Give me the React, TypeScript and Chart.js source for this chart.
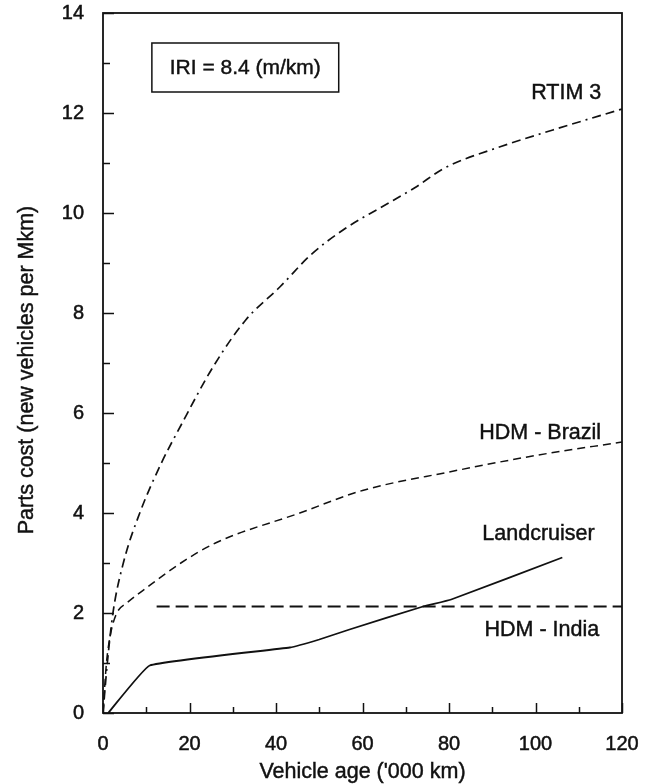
import React, { useEffect, useRef } from "react";
import { Chart, registerables } from "chart.js";

Chart.register(...registerables);

// ---- data ----
const rtimX = [0, 1, 2.3, 4.7, 8.5, 13.5, 18, 25.5, 33, 41, 48, 56, 64, 72, 79, 92, 104, 120];
const rtimY = [0, 1.0, 2.0, 3.0, 4.0, 5.0, 5.75, 6.93, 7.86, 8.53, 9.16, 9.69, 10.1, 10.5, 10.9, 11.33, 11.66, 12.08];

const brazilX = [0, 0.8, 1.8, 3.2, 5.5, 10, 18, 26, 45.5, 60, 80, 100, 120];
const brazilY = [0, 1.0, 1.6, 2.0, 2.2, 2.5, 3.0, 3.4, 4.0, 4.45, 4.82, 5.15, 5.42];

const indiaX = [12.4, 120];
const indiaY = [2.13, 2.13];

const landX = [1.2, 10.8, 43.2, 50, 57, 74, 80.5, 106.2];
const landY = [0, 0.95, 1.31, 1.47, 1.67, 2.13, 2.27, 3.11];

const xTicks = [0, 20, 40, 60, 80, 100, 120];
const yTicks = [0, 2, 4, 6, 8, 10, 12, 14];

const xTitle = "Vehicle age ('000 km)";
const yTitle = "Parts cost (new vehicles per Mkm)";
const boxText = "IRI = 8.4 (m/km)";

const seriesLabels = ["RTIM 3", "HDM - Brazil", "Landcruiser", "HDM - India"];
const seriesLabelX = [99.0, 87.0, 87.7, 88.2];
const seriesLabelY = [12.4, 5.6, 3.58, 1.66];

const FONT = "'Liberation Sans', Arial, Helvetica, sans-serif";
const INK = "#111";

const zip = (xs: number[], ys: number[]) => xs.map((x, i) => ({ x, y: ys[i] }));

const noPad = (s: any) => {
  s.paddingTop = 0;
  s.paddingBottom = 0;
  s.paddingLeft = 0;
  s.paddingRight = 0;
};

const drawText = (ctx: any, t: string, x: number, y: number) => {
  ctx.fillText(t, x, y);
  ctx.strokeText(t, x, y);
};

const decorPlugin = {
  id: "decor",
  afterDraw(chart: any) {
    const ctx = chart.ctx;
    const xs = chart.scales.x;
    const ys = chart.scales.y;
    const { left, right, top, bottom } = chart.chartArea;
    ctx.save();
    ctx.strokeStyle = INK;
    ctx.fillStyle = INK;
    // frame
    ctx.lineWidth = 1.8;
    ctx.strokeRect(left, top, right - left, bottom - top);
    // inward ticks on left axis
    ctx.lineWidth = 1.5;
    for (let v = 0; v <= 14; v += 1) {
      const py = Math.round(ys.getPixelForValue(v)) + 0.5;
      const len = v % 2 === 0 ? 11 : 7;
      ctx.beginPath();
      ctx.moveTo(left, py);
      ctx.lineTo(left + len, py);
      ctx.stroke();
    }
    // inward ticks on bottom axis
    for (let v = 0; v <= 120; v += 10) {
      const px = Math.round(xs.getPixelForValue(v)) + 0.5;
      const len = v % 20 === 0 ? 10 : 6;
      ctx.beginPath();
      ctx.moveTo(px, bottom);
      ctx.lineTo(px, bottom - len);
      ctx.stroke();
    }
    // IRI box
    const bx0 = xs.getPixelForValue(11.3);
    const bx1 = xs.getPixelForValue(54.5);
    const by0 = ys.getPixelForValue(13.4);
    const by1 = ys.getPixelForValue(12.42);
    ctx.lineWidth = 1.5;
    ctx.strokeRect(bx0, by0, bx1 - bx0, by1 - by0);
    ctx.lineWidth = 0.45;
    ctx.font = `21px ${FONT}`;
    ctx.textAlign = "center";
    ctx.textBaseline = "middle";
    drawText(ctx, boxText, (bx0 + bx1) / 2, (by0 + by1) / 2 + 1);
    // series labels
    ctx.font = `21.5px ${FONT}`;
    ctx.textAlign = "left";
    seriesLabels.forEach((t, i) => {
      drawText(ctx, t, xs.getPixelForValue(seriesLabelX[i]), ys.getPixelForValue(seriesLabelY[i]));
    });
    // axis titles
    ctx.textAlign = "center";
    drawText(ctx, xTitle, (left + right) / 2, 772);
    ctx.save();
    ctx.translate(27, 370);
    ctx.rotate(-Math.PI / 2);
    drawText(ctx, yTitle, 0, 0);
    ctx.restore();
    ctx.restore();
  },
};

export default function App() {
  const ref = useRef<HTMLCanvasElement>(null);
  useEffect(() => {
    if (!ref.current) return;
    const common = { borderColor: INK, pointRadius: 0, showLine: true, fill: false, cubicInterpolationMode: "monotone" };
    const chart = new Chart(ref.current, {
      type: "scatter",
      data: {
        datasets: [
          { ...common, label: "RTIM 3", data: zip(rtimX, rtimY), borderWidth: 1.7, borderDash: [9, 5, 9, 5, 9, 5, 2, 5] },
          { ...common, label: "HDM - Brazil", data: zip(brazilX, brazilY), borderWidth: 1.5, borderDash: [8, 5] },
          { ...common, label: "HDM - India", data: zip(indiaX, indiaY), borderWidth: 1.8, borderDash: [13, 6], cubicInterpolationMode: "default", tension: 0 },
          { ...common, label: "Landcruiser", data: zip(landX, landY), borderWidth: 1.8, cubicInterpolationMode: "default", tension: 0.1 },
        ],
      } as any,
      options: {
        animation: false,
        responsive: true,
        maintainAspectRatio: false,
        layout: { padding: { top: 13, right: 31, left: 0, bottom: 0 } },
        plugins: { legend: { display: false }, tooltip: { enabled: false } },
        scales: {
          x: {
            type: "linear",
            min: 0,
            max: 120,
            afterFit: (s: any) => { s.height = 71; noPad(s); },
            afterBuildTicks: (s: any) => { s.ticks = xTicks.map((v) => ({ value: v })); },
            grid: { display: false, drawTicks: false },
            border: { display: false },
            ticks: { color: INK, padding: 19, font: { family: FONT, size: 20 }, maxRotation: 0, textStrokeColor: INK, textStrokeWidth: 0.5 },
          },
          y: {
            type: "linear",
            min: 0,
            max: 14,
            afterFit: (s: any) => { s.width = 103; noPad(s); },
            afterBuildTicks: (s: any) => { s.ticks = yTicks.map((v) => ({ value: v })); },
            grid: { display: false, drawTicks: false },
            border: { display: false },
            ticks: { color: INK, padding: 19, font: { family: FONT, size: 20 }, textStrokeColor: INK, textStrokeWidth: 0.5 },
          },
        },
      } as any,
      plugins: [decorPlugin],
    });
    return () => chart.destroy();
  }, []);
  return (
    <div style={{ position: "absolute", left: 0, top: 0, width: 653, height: 784, background: "#fff" }}>
      <canvas ref={ref} />
    </div>
  );
}
